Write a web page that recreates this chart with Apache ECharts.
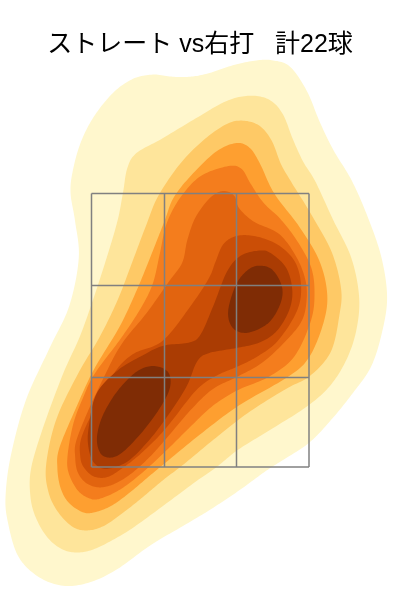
<!DOCTYPE html>
<html><head><meta charset="utf-8">
<style>html,body{margin:0;padding:0;background:#fff}#c{width:400px;height:600px}</style>
<script src="https://cdn.jsdelivr.net/npm/echarts@6/dist/echarts.min.js"></script>
</head><body><div id="c"></div>
<script>
const titleText = "ストレート vs右打   計22球";
const levelColors = ["#FFF7CD","#FEE59B","#FEC966","#FE9F30","#F47D1D","#E2640F","#CB4E06","#AA3C03","#7F2C05","#7F2C05"];
const zoneX = [91.5,164.5,236.5,309];
const zoneY = [193.5,285.5,377.5,467];
const level1 = [[257,60],[273,60],[290,65],[307,90],[320,123],[333,150],[352,180],[368,217],[382,257],[388,297],[383,330],[372,367],[353,393],[333,418],[310,443],[283,460],[267,470],[240,490],[213,508],[190,522],[150,545],[117,570],[90,583],[63,587],[37,577],[17,557],[7,520],[5,497],[10,457],[25,400],[50,347],[70,307],[80,257],[75,220],[70,193],[72,173],[80,143],[93,117],[113,92],[133,78],[153,74],[173,77],[190,77],[207,74],[233,65]];
const level2 = [[250,95],[270,99],[283,113],[293,140],[303,162],[315,180],[333,220],[352,257],[360,297],[357,330],[347,360],[330,387],[307,407],[270,430],[237,450],[217,467],[195,482],[167,503],[133,528],[113,540],[93,550],[77,553],[62,550],[47,538],[35,517],[30,497],[30,470],[42,430],[63,373],[80,337],[93,300],[107,257],[118,220],[123,193],[127,167],[135,153],[160,140],[193,120],[227,100]];
const level3 = [[243,120],[260,125],[272,140],[281,165],[290,180],[313,217],[333,253],[342,290],[340,313],[332,353],[310,377],[287,388],[247,413],[213,440],[183,465],[163,480],[143,497],[123,513],[103,527],[87,531],[73,528],[58,513],[48,493],[45,467],[55,420],[78,373],[100,337],[118,300],[133,260],[147,223],[157,197],[180,163],[203,140],[227,123]];
const level4 = [[237,142],[250,147],[260,163],[273,193],[300,227],[320,260],[328,293],[325,320],[310,358],[292,375],[237,406],[203,432],[165,463],[147,478],[127,495],[110,507],[93,513],[83,513],[68,503],[60,488],[57,467],[58,450],[75,410],[93,370],[120,327],[137,290],[152,253],[165,220],[173,197],[193,173],[217,150]];
const level5 = [[230,165],[242,168],[250,183],[263,203],[280,218],[297,240],[312,267],[315,293],[312,320],[295,358],[270,377],[237,390],[213,405],[190,427],[165,452],[140,475],[120,490],[103,498],[92,500],[78,492],[68,473],[67,457],[73,423],[82,400],[93,375],[120,340],[140,310],[153,285],[160,253],[166,223],[180,197],[200,175]];
const level6 = [[223,190],[235,195],[238,208],[253,222],[280,233],[297,257],[306,280],[307,300],[303,320],[290,337],[263,363],[237,377],[213,388],[193,407],[165,440],[150,457],[130,475],[113,485],[98,488],[85,483],[77,472],[75,457],[75,443],[87,413],[100,385],[120,345],[147,313],[170,280],[183,263],[187,240],[195,217],[210,197]];
const level7 = [[237,235],[257,236],[280,245],[297,263],[302,290],[297,313],[277,343],[257,357],[237,367],[217,375],[197,388],[165,430],[143,452],[123,468],[107,478],[93,477],[83,467],[80,457],[80,440],[92,413],[102,395],[117,368],[133,353],[163,343],[193,303],[210,277],[215,263],[223,243]];
const level8 = [[260,250],[270,252],[287,267],[293,290],[290,310],[277,332],[260,343],[237,348],[207,353],[197,360],[187,387],[165,420],[147,443],[127,463],[105,470],[93,463],[88,447],[88,430],[95,393],[117,370],[143,355],[163,345],[190,343],[200,337],[213,307],[227,270],[240,255]];
const level9a = [[260,265],[273,269],[283,287],[281,304],[269,324],[247,334],[232,329],[227,312],[236,283],[248,269]];
const level9b = [[153,365],[169,371],[171,387],[161,407],[141,434],[118,457],[102,457],[96,441],[101,418],[116,392],[136,371]];
const contours = [level1,level2,level3,level4,level5,level6,level7,level8,level9a,level9b];

// closed curve through the traced outline (light noise filter, then Catmull-Rom)
function outline(pts){
  const n=pts.length, s=pts.map((p,i)=>{
    const a=pts[(i+n-1)%n], b=pts[(i+1)%n];
    return [(a[0]+10*p[0]+b[0])/12,(a[1]+10*p[1]+b[1])/12];
  });
  const out=[];
  for(let i=0;i<n;i++){
    const p0=s[(i+n-1)%n],p1=s[i],p2=s[(i+1)%n],p3=s[(i+2)%n];
    for(let k=0;k<12;k++){
      const t=k/12,t2=t*t,t3=t2*t;
      out.push([0,1].map(d=>0.5*(2*p1[d]+(p2[d]-p0[d])*t+(2*p0[d]-5*p1[d]+4*p2[d]-p3[d])*t2+(3*p1[d]-p0[d]-3*p2[d]+p3[d])*t3)));
    }
  }
  return out;
}
const contourSeries = contours.map((pts,i)=>({
  type:'custom', coordinateSystem:'cartesian2d', silent:true, z:2+i, clip:false,
  data:pts,
  renderItem(params,api){
    if(params.dataIndex!==0) return null;
    return {type:'polygon',shape:{points:outline(pts).map(p=>api.coord(p))},
      style:{fill:levelColors[i],stroke:null}};
  }
}));
const lineStyle={color:'#808080',width:1.5};
const zoneSeries=[
  ...zoneX.map(x=>({type:'line',z:20,symbol:'none',silent:true,lineStyle,data:[[x,zoneY[0]],[x,zoneY[3]]]})),
  ...zoneY.map(y=>({type:'line',z:20,symbol:'none',silent:true,lineStyle,data:[[zoneX[0],y],[zoneX[3],y]]}))
];
const chart=echarts.init(document.getElementById('c'),null,{renderer:'canvas'});
chart.setOption({
  animation:false,backgroundColor:'#fff',
  title:{text:titleText,left:'center',top:28,textStyle:{fontFamily:'"Liberation Sans","Noto Sans CJK JP",sans-serif',fontSize:25,fontWeight:'normal',color:'#000'}},
  grid:{left:0,right:0,top:0,bottom:0},
  xAxis:{type:'value',min:0,max:400,show:false},
  yAxis:{type:'value',min:0,max:600,inverse:true,show:false},
  series:[...contourSeries,...zoneSeries]
});
</script></body></html>
